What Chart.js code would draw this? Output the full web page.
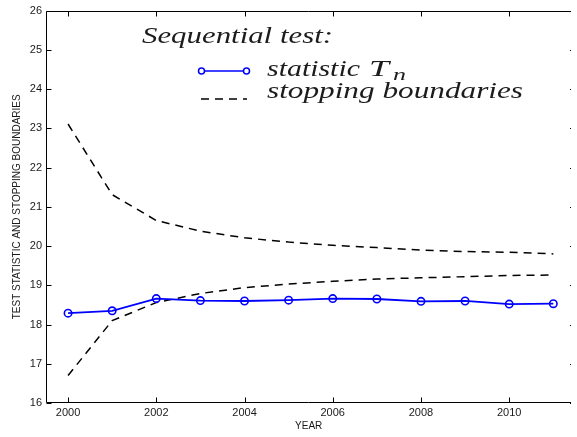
<!DOCTYPE html>
<html>
<head>
<meta charset="utf-8">
<script src="https://cdn.jsdelivr.net/npm/chart.js@4/dist/chart.umd.min.js"></script>
<style>
html,body{margin:0;padding:0;overflow:hidden;background:#fff;width:577px;height:437px}
#c{display:block}
</style>
</head>
<body>
<canvas id="c" width="577" height="437"></canvas>
<script>
// ---- data ----
const years = [2000,2001,2002,2003,2004,2005,2006,2007,2008,2009,2010,2011];
const statisticTn = [18.29,18.35,18.66,18.61,18.60,18.62,18.66,18.65,18.59,18.60,18.52,18.53];
const upperBoundary = [23.11,21.31,20.65,20.38,20.21,20.10,20.02,19.96,19.90,19.86,19.84,19.80];
const lowerBoundary = [16.70,18.10,18.56,18.79,18.94,19.03,19.10,19.16,19.19,19.22,19.25,19.26];
const xTicks = [2000,2002,2004,2006,2008,2010];
const yTicks = [16,17,18,19,20,21,22,23,24,25,26];
const legendTitle = 'Sequential test:';
const legendStatLabel = 'statistic';
const legendStatSymbol = 'T';
const legendStatSub = 'n';
const legendBoundLabel = 'stopping boundaries';
const xTitle = 'YEAR';
const yTitle = 'TEST STATISTIC AND STOPPING BOUNDARIES';

const toPts = arr => years.map((yr, i) => ({x: yr, y: arr[i]}));

const boxTicks = {
  id: 'boxTicks',
  afterDraw(chart) {
    const {ctx, chartArea: {left, right, top, bottom}, scales: {x, y}} = chart;
    const L = Math.round(left) + 0.5, R = Math.round(right);
    const T = Math.round(top) + 0.5, B = Math.round(bottom) - 0.5;
    ctx.save();
    ctx.strokeStyle = '#000';
    ctx.lineWidth = 1;
    ctx.beginPath();
    ctx.moveTo(R, T); ctx.lineTo(L, T); ctx.lineTo(L, B); ctx.lineTo(R, B);
    const tl = 5;
    xTicks.forEach(v => {
      const px = Math.round(x.getPixelForValue(v)) + 0.5;
      ctx.moveTo(px, B); ctx.lineTo(px, B - tl);
      ctx.moveTo(px, T); ctx.lineTo(px, T + tl);
    });
    yTicks.forEach(v => {
      const py = Math.round(y.getPixelForValue(v)) + 0.5;
      ctx.moveTo(L, py); ctx.lineTo(L + tl, py);
      ctx.moveTo(R, py); ctx.lineTo(R - 1, py);
    });
    ctx.stroke();
    ctx.restore();
  }
};

const legendPlugin = {
  id: 'texLegend',
  afterDraw(chart) {
    const ctx = chart.ctx;
    const ds = chart.data.datasets;
    ctx.save();
    ctx.fillStyle = '#1c1c1c';
    ctx.textBaseline = 'alphabetic';
    ctx.textAlign = 'left';
    const font = 'italic 24px "Liberation Serif"';
    ctx.font = font;
    const fit = (txt, x0, base, width, f) => {
      ctx.font = f;
      const k = width / ctx.measureText(txt).width;
      ctx.save(); ctx.translate(x0, base); ctx.scale(k, 1); ctx.fillText(txt, 0, 0); ctx.restore();
    };
    fit(legendTitle, 142, 43, 191, font);
    fit(legendStatLabel, 267, 75.5, 93, font);
    fit(legendStatSymbol, 369, 75.5, 20, font);
    fit(legendStatSub, 393, 79.5, 13, 'italic 17px "Liberation Serif"');
    fit(legendBoundLabel, 267, 97.5, 256, font);

    // sample: statistic
    const s = ds[0];
    ctx.strokeStyle = s.borderColor;
    ctx.lineWidth = 1.5;
    ctx.beginPath(); ctx.moveTo(201.5, 71); ctx.lineTo(246.5, 71); ctx.stroke();
    ctx.fillStyle = '#fff';
    [201.5, 246.5].forEach(cx => {
      ctx.beginPath(); ctx.arc(cx, 71, 3, 0, Math.PI * 2); ctx.fill(); ctx.stroke();
    });
    // sample: boundaries
    const b = ds[1];
    ctx.strokeStyle = b.borderColor;
    ctx.lineWidth = b.borderWidth;
    ctx.setLineDash(b.borderDash);
    ctx.beginPath(); ctx.moveTo(201, 99); ctx.lineTo(247, 99); ctx.stroke();
    ctx.restore();
  }
};

const tickFont = {family: '"Liberation Sans", Arial, sans-serif', size: 11};

new Chart(document.getElementById('c'), {
  type: 'line',
  data: {
    datasets: [
      {
        label: 'statistic Tn',
        data: toPts(statisticTn),
        borderColor: '#0000ff',
        backgroundColor: '#ffffff',
        borderWidth: 1.8,
        pointRadius: 3.7,
        pointBorderWidth: 1.6,
        pointBackgroundColor: 'rgba(255,255,255,0)',
        pointBorderColor: '#0000ff',
        tension: 0
      },
      {
        label: 'stopping boundaries',
        data: toPts(upperBoundary),
        borderColor: '#000000',
        borderWidth: 1.5,
        borderDash: [8, 6],
        pointRadius: 0,
        tension: 0
      },
      {
        label: 'stopping boundaries (lower)',
        data: toPts(lowerBoundary),
        borderColor: '#000000',
        borderWidth: 1.5,
        borderDash: [8, 6],
        pointRadius: 0,
        tension: 0
      }
    ]
  },
  options: {
    responsive: false,
    animation: false,
    devicePixelRatio: 1,
    layout: {padding: {left: 0, top: 8, right: 0, bottom: 0}},
    plugins: {legend: {display: false}, tooltip: {enabled: false}},
    scales: {
      x: {
        type: 'linear',
        min: 1999.5,
        max: 2011.41,
        grid: {display: false, drawTicks: false},
        border: {display: false},
        afterBuildTicks: sc => { sc.ticks = xTicks.map(v => ({value: v})); },
        afterFit: sc => { sc.height = 34; },
        ticks: {
          autoSkip: false, maxRotation: 0, padding: 3,
          color: '#1a1a1a', font: tickFont,
          callback: v => String(v)
        },
        title: {
          display: true, text: xTitle, color: '#1a1a1a',
          font: {family: '"Liberation Sans", Arial, sans-serif', size: 10},
          padding: {top: 0, bottom: 5}
        }
      },
      y: {
        type: 'linear',
        min: 16,
        max: 26,
        grid: {display: false, drawTicks: false},
        border: {display: false},
        afterBuildTicks: sc => { sc.ticks = yTicks.map(v => ({value: v})); },
        afterFit: sc => { sc.width = 46; },
        ticks: {
          autoSkip: false, padding: 4,
          color: '#1a1a1a', font: tickFont,
          callback: v => String(v)
        },
        title: {
          display: true, text: yTitle, color: '#1a1a1a',
          font: {family: '"Liberation Sans", Arial, sans-serif', size: 10},
          padding: {top: 11, bottom: 0}
        }
      }
    }
  },
  plugins: [boxTicks, legendPlugin]
});
</script>
</body>
</html>
